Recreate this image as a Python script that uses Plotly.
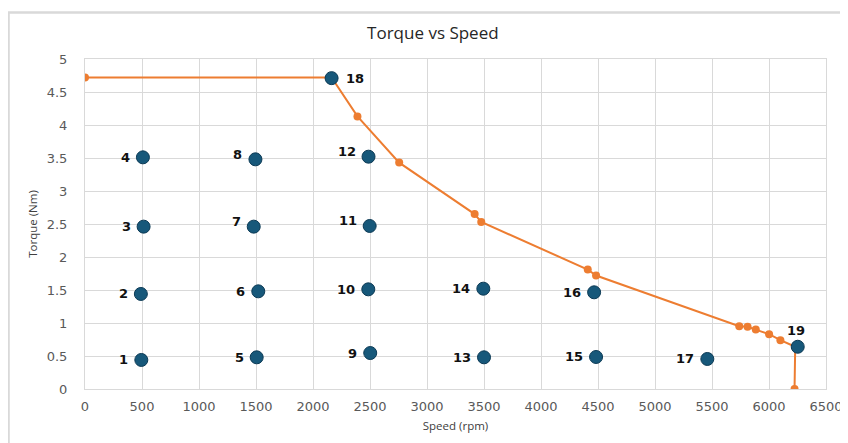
import plotly.graph_objects as go

# Torque/speed envelope (orange line)
curve_speed = [0, 2163, 2390, 2756, 3418, 3476, 4410, 4483, 5739, 5812, 5884, 6001, 6100, 6230, 6224]
curve_torque = [4.72, 4.72, 4.13, 3.43, 2.65, 2.53, 1.81, 1.72, 0.95, 0.944, 0.90, 0.83, 0.74, 0.64, 0.0]

# Operating points (blue markers)
point_labels = ["1", "2", "3", "4", "5", "6", "7", "8", "9", "10",
                "11", "12", "13", "14", "15", "16", "17", "18", "19"]
point_speed = [494, 490, 514, 508, 1506, 1520, 1480, 1495, 2502, 2485,
               2497, 2487, 3500, 3494, 4483, 4466, 5459, 2163, 6252]
point_torque = [0.44, 1.44, 2.46, 3.51, 0.48, 1.48, 2.46, 3.48, 0.545, 1.51,
                2.47, 3.52, 0.48, 1.52, 0.485, 1.465, 0.455, 4.71, 0.64]

x_ticks = list(range(0, 6501, 500))
y_ticks = [0, 0.5, 1, 1.5, 2, 2.5, 3, 3.5, 4, 4.5, 5]
y_ticktext = ["0", "0.5", "1", "1.5", "2", "2.5", "3", "3.5", "4", "4.5", "5"]

# label placement styles (pixel offsets relative to the marker)
label_style = {"18": dict(xanchor="left", xshift=12, yshift=0),
               "19": dict(xanchor="center", xshift=-2, yshift=16)}
raised = {"7", "8", "11", "12"}

fig = go.Figure()
fig.add_trace(go.Scatter(
    x=curve_speed, y=curve_torque, mode="lines+markers",
    line=dict(color="#ED7D31", width=2),
    marker=dict(color="#ED7D31", size=8),
    hoverinfo="x+y", showlegend=False,
))
fig.add_trace(go.Scatter(
    x=point_speed, y=point_torque, mode="markers",
    marker=dict(color="#17587A", size=13, line=dict(color="#0C3A55", width=1)),
    showlegend=False,
))

annotations = []
for lab, xs, ys in zip(point_labels, point_speed, point_torque):
    st = label_style.get(lab, dict(xanchor="right", xshift=-11, yshift=5 if lab in raised else 0))
    annotations.append(dict(
        x=xs, y=ys, xref="x", yref="y", text=lab, showarrow=False,
        xanchor=st["xanchor"], yanchor="middle", xshift=st["xshift"], yshift=st["yshift"],
        font=dict(family="DejaVu Sans", size=13, color="#111111", weight="bold"),
    ))

axis_common = dict(
    showgrid=True, gridcolor="#D9D9D9", gridwidth=1,
    zeroline=False, showline=True, linecolor="#D9D9D9", linewidth=1, mirror=True,
    tickfont=dict(family="DejaVu Sans", size=13, color="#595959"),
    ticks="",
)

fig.update_layout(
    width=848, height=443,
    margin=dict(l=77, r=30, t=51, b=62, autoexpand=False),
    paper_bgcolor="white", plot_bgcolor="white",
    title=dict(text="Torque vs Speed", x=0.501, xanchor="center", y=1 - 25 / 443, yanchor="middle",
               font=dict(family="Open Sans", size=17, color="#262626")),
    xaxis=dict(range=[0, 6500], tickvals=x_ticks, ticklabelstandoff=5,
               title=dict(text="Speed (rpm)", font=dict(family="Open Sans", size=11.5, color="#404040"), standoff=9),
               **axis_common),
    yaxis=dict(range=[0, 5], tickvals=y_ticks, ticktext=y_ticktext, ticklabelstandoff=14,
               title=dict(text="Torque (Nm)", font=dict(family="Open Sans", size=11.5, color="#404040"), standoff=6),
               **axis_common),
    annotations=annotations,
    shapes=[dict(type="rect", xref="paper", yref="paper",
                 x0=-0.1032, x1=1.2, y0=-0.3, y1=1.141,
                 line=dict(color="#D9D9D9", width=2.5), fillcolor="rgba(0,0,0,0)", layer="below")],
)

fig.write_html("out.html")
